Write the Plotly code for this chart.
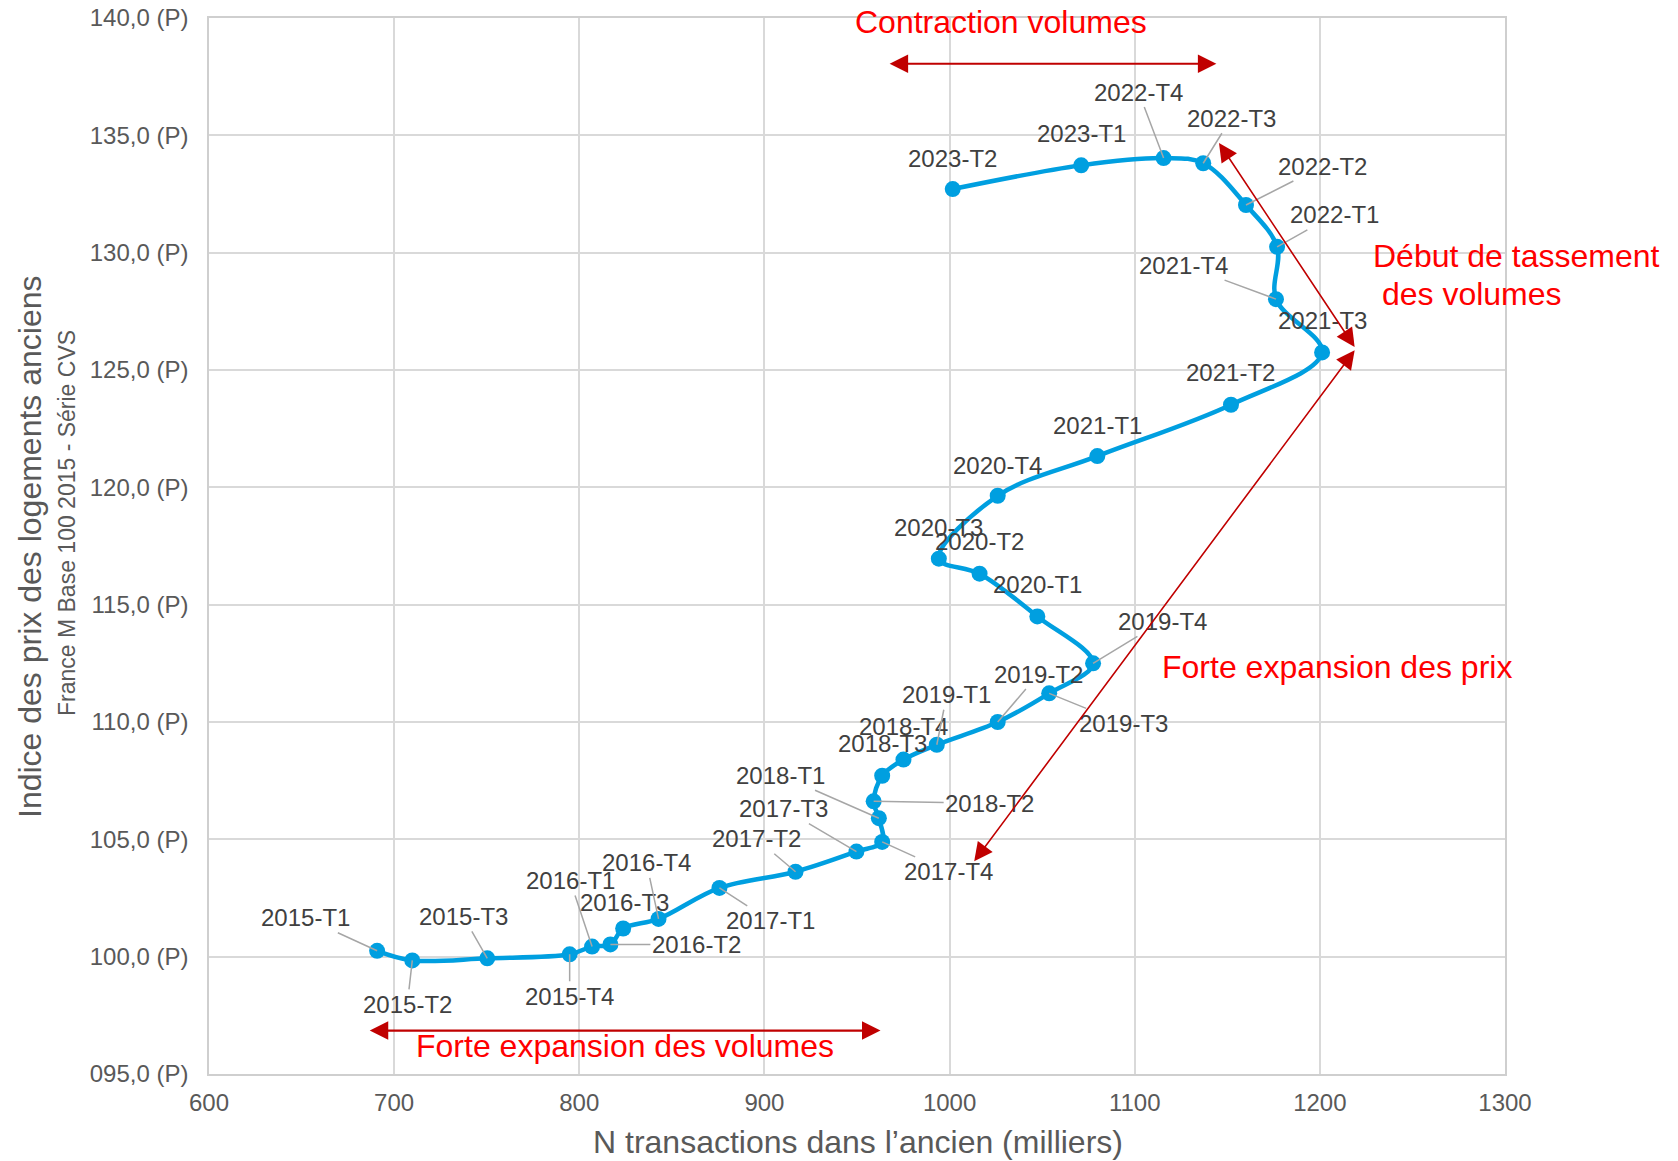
import plotly.graph_objects as go

# Quarterly series: existing-home transactions (thousands) vs price index (base 100 = 2015)
quarters = [
    "2015-T1", "2015-T2", "2015-T3", "2015-T4",
    "2016-T1", "2016-T2", "2016-T3", "2016-T4",
    "2017-T1", "2017-T2", "2017-T3", "2017-T4",
    "2018-T1", "2018-T2", "2018-T3", "2018-T4",
    "2019-T1", "2019-T2", "2019-T3", "2019-T4",
    "2020-T1", "2020-T2", "2020-T3", "2020-T4",
    "2021-T1", "2021-T2", "2021-T3", "2021-T4",
    "2022-T1", "2022-T2", "2022-T3", "2022-T4",
    "2023-T1", "2023-T2",
]
transactions = [
    690.8, 709.8, 750.3, 794.8,
    806.9, 816.8, 823.7, 842.8,
    875.7, 916.8, 949.7, 963.6,
    961.8, 959.0, 963.6, 975.1,
    993.1, 1026.0, 1053.8, 1077.5,
    1047.4, 1016.2, 994.2, 1026.0,
    1079.8, 1152.0, 1201.2, 1176.3,
    1176.9, 1160.1, 1137.0, 1115.6,
    1071.1, 1001.7,
]
price_index = [
    100.25, 99.84, 99.93, 100.10,
    100.43, 100.52, 101.20, 101.61,
    102.93, 103.62, 104.48, 104.89,
    105.90, 106.62, 107.71, 108.40,
    109.03, 110.00, 111.22, 112.50,
    114.50, 116.32, 116.96, 119.64,
    121.33, 123.52, 125.75, 128.02,
    130.25, 132.03, 133.81, 134.03,
    133.72, 132.71,
]

x_tick_values = [600, 700, 800, 900, 1000, 1100, 1200, 1300]
y_tick_values = [95, 100, 105, 110, 115, 120, 125, 130, 135, 140]
y_tick_labels = [
    "095,0 (P)", "100,0 (P)", "105,0 (P)", "110,0 (P)", "115,0 (P)",
    "120,0 (P)", "125,0 (P)", "130,0 (P)", "135,0 (P)", "140,0 (P)",
]

# Label placement: pixel offset of each quarter label from its point, and whether
# a leader line joins them
label_layout = [
    (-72, -33, True), (-5, 44, True), (-24, -42, True), (0, 42, True),
    (-22, -66, True), (86, 0, True), (1, -26, False), (-12, -56, True),
    (51, 33, True), (-39, -33, True), (-73, -43, True), (66, 30, True),
    (-98, -43, True), (116, 2, True), (0, -32, False), (0, -33, False),
    (10, -50, True), (41, -48, True), (74, 30, True), (69, -42, True),
    (0, -32, False), (0, -32, False), (0, -31, False), (0, -30, False),
    (0, -31, False), (0, -32, False), (0, -32, False), (-92, -34, True),
    (57, -32, True), (77, -39, True), (28, -45, True), (-25, -66, True),
    (0, -32, False), (0, -31, False),
]

FONT = "Arial, 'Liberation Sans', sans-serif"
BLUE = "#009FE0"
DARK_RED = "#C00000"
RED = "#FF0000"
GRID = "#D9D9D9"

fig = go.Figure()
fig.add_trace(go.Scatter(
    x=transactions,
    y=price_index,
    mode="lines+markers",
    line=dict(color=BLUE, width=4.5, shape="spline", smoothing=1.0),
    marker=dict(color=BLUE, size=16),
    hovertext=quarters,
    showlegend=False,
))

annotations = []

# Quarter labels
for q, xv, yv, (dx, dy, leader) in zip(quarters, transactions, price_index, label_layout):
    annotations.append(dict(
        x=xv, y=yv, xref="x", yref="y",
        text=q, showarrow=True,
        ax=dx, ay=dy, axref="pixel", ayref="pixel",
        arrowhead=0, arrowwidth=1.5,
        arrowcolor="#A6A6A6" if leader else "rgba(0,0,0,0)",
        standoff=0,
        font=dict(family=FONT, size=24, color="#404040"),
    ))

# Red double-headed arrows
arrows = [
    (1144.1, 138.05, 966.8, 138.05, 2.2),
    (962.7, 96.85, 686.0, 96.85, 2.2),
    (1218.8, 125.98, 1145.0, 134.74, 1.6),
    (1218.8, 125.84, 1012.7, 104.0, 1.6),
]
for x1, y1, x0, y0, w in arrows:
    annotations.append(dict(
        x=x1, y=y1, xref="x", yref="y",
        ax=x0, ay=y0, axref="x", ayref="y",
        text="", showarrow=True,
        arrowside="end+start",
        arrowhead=2, startarrowhead=2,
        arrowsize=3.7 / w, startarrowsize=3.7 / w,
        arrowwidth=w, arrowcolor=DARK_RED,
        standoff=0, startstandoff=0,
    ))

# Red callout texts
callouts = [
    ("Contraction volumes", 1028.0, 139.82, "center"),
    ("Forte expansion des volumes", 824.9, 96.21, "center"),
    ("Début de tassement", 1227.4, 129.84, "left"),
    ("\u00a0des volumes", 1227.4, 128.24, "left"),
    ("Forte expansion des prix", 1209.5, 112.35, "center"),
]
for txt, xv, yv, anchor in callouts:
    annotations.append(dict(
        x=xv, y=yv, xref="x", yref="y",
        text=txt, showarrow=False,
        xanchor=anchor, yanchor="middle", align="left",
        font=dict(family=FONT, size=32, color=RED),
    ))

# Axis titles (positions given in page pixels, converted below)
annotations.append(dict(
    x=30, y=547,
    text="Indice des prix des logements anciens",
    showarrow=False, textangle=-90,
    font=dict(family=FONT, size=32, color="#595959"),
))
annotations.append(dict(
    x=67, y=523,
    text="France M Base 100 2015 - Série CVS",
    showarrow=False, textangle=-90,
    font=dict(family=FONT, size=23, color="#595959"),
))
annotations.append(dict(
    x=858, y=1142,
    text="N transactions dans l\u2019ancien (milliers)",
    showarrow=False,
    font=dict(family=FONT, size=32, color="#595959"),
))

W, H = 1678, 1161
ML, MR, MT, MB = 209, 173, 18, 87
pw, ph = W - ML - MR, H - MT - MB
for a in annotations[-3:]:
    a["xref"], a["yref"] = "paper", "paper"
    a["x"] = (a["x"] - ML) / pw
    a["y"] = (H - MB - a["y"]) / ph
    a["xanchor"] = "center"
    a["yanchor"] = "middle"

fig.update_layout(
    width=W, height=H, autosize=False,
    margin=dict(l=ML, r=MR, t=MT, b=MB, pad=0),
    paper_bgcolor="white", plot_bgcolor="white",
    font=dict(family=FONT, color="#595959"),
    annotations=annotations,
    xaxis=dict(
        range=[600, 1300], tickvals=x_tick_values,
        showgrid=True, gridcolor=GRID, gridwidth=1.5,
        showline=True, linecolor="#CFCFCF", linewidth=1.5, mirror=True,
        zeroline=False, ticks="", ticklabelstandoff=6, automargin=False,
        tickfont=dict(family=FONT, size=24, color="#595959"),
    ),
    yaxis=dict(
        range=[95, 140], tickvals=y_tick_values, ticktext=y_tick_labels,
        showgrid=True, gridcolor=GRID, gridwidth=1.5,
        showline=True, linecolor="#CFCFCF", linewidth=1.5, mirror=True,
        zeroline=False, ticks="", ticklabelstandoff=14, automargin=False,
        tickfont=dict(family=FONT, size=24, color="#595959"),
    ),
)

fig.write_html("out.html")
